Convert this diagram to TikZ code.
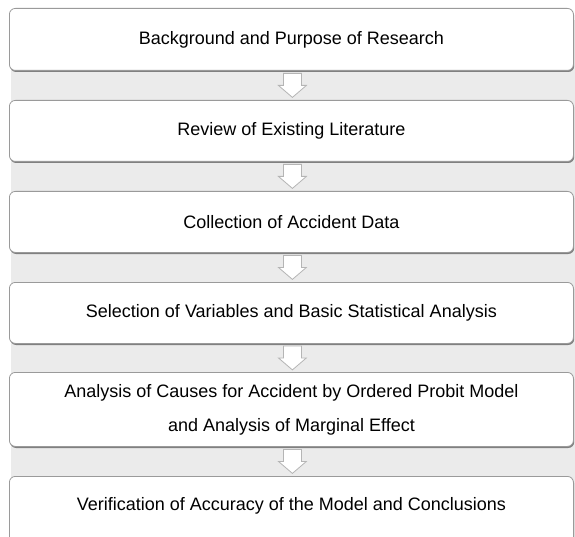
\documentclass[tikz,border=0pt]{standalone}
\usepackage{fontspec}
\setmainfont{Liberation Sans}
\usetikzlibrary{calc,shadows}
\definecolor{band}{HTML}{EBEBEB}
\definecolor{boxline}{HTML}{9A9A9A}
\definecolor{arrline}{HTML}{B5B5B5}
\tikzset{
  stepbox/.style={draw=boxline, line width=0.8pt, fill=white, rounded corners=6pt,
    minimum width=564pt, anchor=north west, inner sep=0pt,
    font=\fontsize{18}{34}\selectfont, align=center,
    drop shadow={shadow xshift=0.8pt, shadow yshift=-1.6pt, fill=black!60, opacity=0.8}},
  steptext/.style={font=\fontsize{18}{34}\selectfont, align=center, inner sep=0pt},
  flowarrow/.style={draw=arrline, fill=white, line width=0.8pt, line join=miter}
}
\begin{document}
\begin{tikzpicture}[x=1pt,y=-1pt]
\useasboundingbox (0,0) rectangle (575,537);
\clip (0,0) rectangle (575,537);
\fill[band] (11,20) rectangle (575,537);
\node[stepbox, minimum height=62pt] (b1) at (9,8) {Background and Purpose of Research};
\node[stepbox, minimum height=61pt] (b2) at (9,100) {Review of Existing Literature};
\node[stepbox, minimum height=61pt] (b3) at (9,191) {Collection of Accident Data};
\node[stepbox, minimum height=61pt] (b4) at (9,282) {Selection of Variables and Basic Statistical Analysis};
\node[stepbox, minimum height=74pt] (b5) at (9,372) {Analysis of Causes for Accident by Ordered Probit Model\\and Analysis of Marginal Effect};
\node[stepbox, minimum height=100pt] (b6) at (9,476) {};
\node[steptext] (t6) at ($(b6.north)+(0,30)$) {Verification of Accuracy of the Model and Conclusions};
\foreach \a/\b in {b1/b2,b2/b3,b3/b4,b4/b5,b5/b6}{
  \coordinate (m) at ($(\a.south)!0.5!(\b.north)+(1,0)$);
  \draw[flowarrow] ($(m)+(-9,-12)$) -- ($(m)+(9,-12)$) -- ($(m)+(9,0)$) -- ($(m)+(14,0)$)
    -- ($(m)+(0,12)$) -- ($(m)+(-14,0)$) -- ($(m)+(-9,0)$) -- cycle;
}
\end{tikzpicture}
\end{document}
